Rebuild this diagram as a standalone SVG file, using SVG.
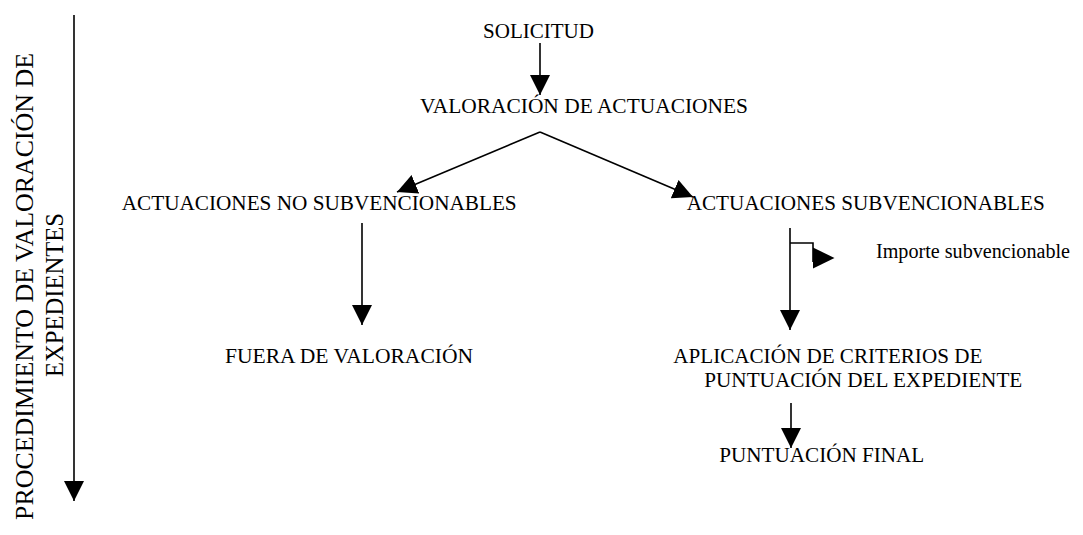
<svg xmlns="http://www.w3.org/2000/svg" width="1083" height="535" viewBox="0 0 1083 535">
<style>
text{font-family:"Liberation Serif","Times New Roman",serif;fill:#000;font-size:21px}
.sm{font-size:20px}
.big{font-size:26px}
.ln{stroke:#000;stroke-width:1.6;fill:none}
.ah{fill:#000;stroke:none}
</style>
<defs>
<marker id="arr" viewBox="0 0 20 20" refX="20" refY="10" markerWidth="20" markerHeight="20" markerUnits="userSpaceOnUse" orient="auto">
<path d="M0,0 L20,10 L0,20 z" fill="#000"/>
</marker>
</defs>
<rect width="1083" height="535" fill="#fff"/>
<g id="connectors">
<line class="ln" x1="74" y1="15" x2="74" y2="501" marker-end="url(#arr)"/>
<line class="ln" x1="540" y1="43" x2="540" y2="95" marker-end="url(#arr)"/>
<line class="ln" x1="540" y1="132" x2="693" y2="197" marker-end="url(#arr)"/>
<line class="ln" x1="540" y1="132" x2="397" y2="192" marker-end="url(#arr)"/>
<line class="ln" x1="362" y1="223" x2="362" y2="325" marker-end="url(#arr)"/>
<line class="ln" x1="790" y1="228" x2="790" y2="330" marker-end="url(#arr)"/>
<path class="ln" d="M790,243 H813 V262"/>
<polygon class="ah" points="813,247.5 834.5,258 813,268.5"/>
<line class="ln" x1="791" y1="403" x2="791" y2="448" marker-end="url(#arr)"/>
</g>
<g id="axis-label">
<text class="big" transform="translate(33,286.5) rotate(-90)" text-anchor="middle" textLength="467" lengthAdjust="spacingAndGlyphs">PROCEDIMIENTO DE VALORACIÓN DE</text>
<text class="big" transform="translate(63,295) rotate(-90)" text-anchor="middle" textLength="164" lengthAdjust="spacingAndGlyphs">EXPEDIENTES</text>
</g>
<g id="solicitud"><text x="483" y="38" textLength="111" lengthAdjust="spacingAndGlyphs">SOLICITUD</text></g>
<g id="valoracion"><text x="420" y="112.5" textLength="328" lengthAdjust="spacingAndGlyphs">VALORACIÓN DE ACTUACIONES</text></g>
<g id="no-subvencionables"><text x="121.7" y="210" textLength="395" lengthAdjust="spacingAndGlyphs">ACTUACIONES NO SUBVENCIONABLES</text></g>
<g id="subvencionables"><text x="686.7" y="210" textLength="358" lengthAdjust="spacingAndGlyphs">ACTUACIONES SUBVENCIONABLES</text></g>
<g id="importe"><text class="sm" x="876" y="258" textLength="194" lengthAdjust="spacingAndGlyphs">Importe subvencionable</text></g>
<g id="fuera"><text x="225" y="363" textLength="248" lengthAdjust="spacingAndGlyphs">FUERA DE VALORACIÓN</text></g>
<g id="aplicacion">
<text x="673.3" y="363" textLength="309" lengthAdjust="spacingAndGlyphs">APLICACIÓN DE CRITERIOS DE</text>
<text x="704.3" y="387" textLength="318" lengthAdjust="spacingAndGlyphs">PUNTUACIÓN DEL EXPEDIENTE</text>
</g>
<g id="puntuacion-final"><text x="719.3" y="462" textLength="205" lengthAdjust="spacingAndGlyphs">PUNTUACIÓN FINAL</text></g>
</svg>
